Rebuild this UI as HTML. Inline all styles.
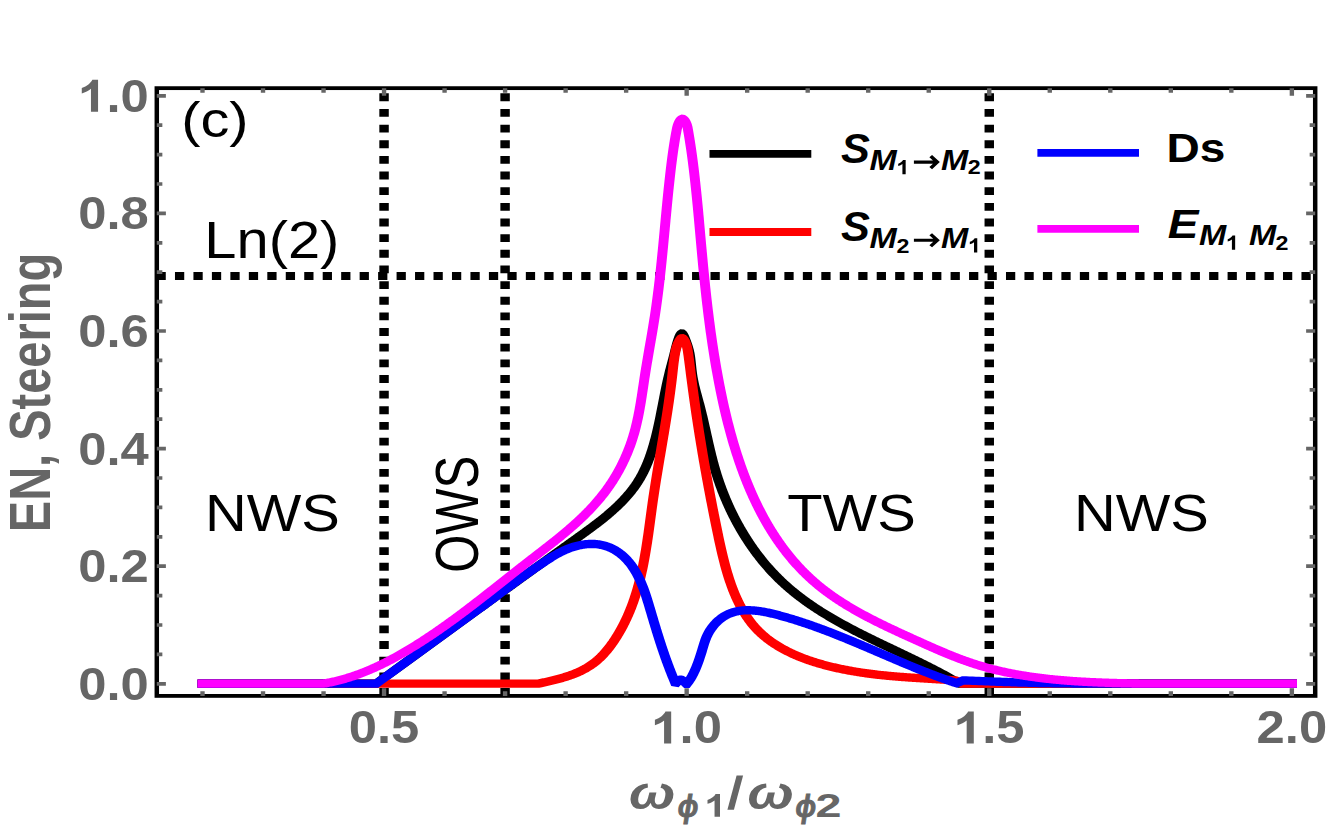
<!DOCTYPE html><html><head><meta charset="utf-8"><title>chart</title><style>html,body{margin:0;padding:0;background:#fff}svg{display:block}text{font-family:"Liberation Sans",sans-serif;font-kerning:none}</style></head><body>
<svg width="1329" height="830" viewBox="0 0 1329 830">
<rect width="1329" height="830" fill="#fff"/>
<g transform="scale(1.1800,1)">
<line x1="325.47" y1="695.90" x2="325.47" y2="88.15" stroke="#000" stroke-width="8.00" stroke-dasharray="7.85 7.80"/>
<line x1="428.05" y1="695.90" x2="428.05" y2="88.15" stroke="#000" stroke-width="8.00" stroke-dasharray="7.85 7.80"/>
<line x1="838.36" y1="695.90" x2="838.36" y2="88.15" stroke="#000" stroke-width="8.00" stroke-dasharray="7.85 7.80"/>
<line x1="132.63" y1="276.00" x2="1114.58" y2="276.00" stroke="#000" stroke-width="7.80" stroke-dasharray="7.85 7.80"/>
<polyline points="171.61,683.60 318.90,683.60 406.78,608.14 407.47,607.55 408.15,606.96 408.84,606.37 409.52,605.78 410.21,605.19 410.90,604.60 411.58,604.01 412.27,603.42 412.96,602.83 413.64,602.24 414.33,601.65 415.01,601.06 415.70,600.47 416.38,599.88 417.07,599.29 417.76,598.71 418.44,598.12 419.13,597.53 419.81,596.94 420.50,596.35 421.18,595.76 421.87,595.18 422.56,594.59 423.24,594.00 423.93,593.41 424.61,592.82 425.30,592.24 425.98,591.65 426.67,591.06 427.36,590.48 428.04,589.89 428.73,589.30 429.41,588.71 430.10,588.13 430.78,587.54 431.47,586.95 432.16,586.37 432.84,585.78 433.53,585.19 434.21,584.61 434.90,584.02 435.59,583.43 436.27,582.85 436.96,582.26 437.64,581.68 438.33,581.09 439.02,580.50 439.70,579.92 440.39,579.33 441.07,578.75 441.76,578.16 442.45,577.57 443.13,576.99 443.82,576.40 444.51,575.82 445.20,575.23 445.88,574.64 446.57,574.06 447.26,573.47 447.94,572.89 448.63,572.30 449.32,571.72 450.01,571.13 450.69,570.54 451.38,569.96 452.07,569.37 452.76,568.79 453.44,568.20 454.13,567.61 454.82,567.03 455.51,566.44 456.20,565.86 456.89,565.27 457.58,564.69 458.26,564.10 458.95,563.51 459.64,562.93 460.33,562.34 461.02,561.76 461.71,561.17 462.40,560.58 463.09,560.00 463.78,559.41 464.47,558.83 465.16,558.24 465.85,557.65 466.54,557.07 467.23,556.48 467.92,555.89 468.61,555.31 469.31,554.72 470.00,554.13 470.69,553.55 471.38,552.96 472.07,552.37 472.76,551.79 473.46,551.20 474.15,550.61 474.84,550.02 475.54,549.44 476.23,548.85 476.92,548.26 477.62,547.67 478.31,547.09 479.00,546.50 479.70,545.91 480.39,545.32 481.09,544.73 481.78,544.15 482.48,543.56 483.17,542.97 483.87,542.38 484.56,541.79 485.26,541.20 485.95,540.61 486.65,540.02 487.35,539.43 488.04,538.85 488.74,538.26 489.44,537.67 490.14,537.08 490.83,536.48 491.53,535.89 492.23,535.30 492.92,534.71 493.62,534.12 494.32,533.53 495.01,532.93 495.71,532.34 496.40,531.74 497.09,531.15 497.79,530.55 498.48,529.95 499.17,529.35 499.86,528.75 500.55,528.15 501.24,527.55 501.92,526.94 502.61,526.34 503.29,525.73 503.97,525.12 504.66,524.51 505.34,523.90 506.01,523.29 506.69,522.67 507.36,522.06 508.04,521.44 508.71,520.82 509.37,520.20 510.04,519.57 510.70,518.95 511.37,518.32 512.03,517.69 512.68,517.06 513.34,516.42 513.99,515.78 514.64,515.15 515.28,514.50 515.93,513.86 516.57,513.21 517.21,512.56 517.84,511.91 518.47,511.26 519.10,510.60 519.73,509.94 520.35,509.27 520.97,508.61 521.59,507.94 522.20,507.27 522.81,506.59 523.41,505.91 524.01,505.23 524.61,504.54 525.20,503.85 525.79,503.16 526.38,502.47 526.96,501.77 527.53,501.06 528.11,500.36 528.67,499.65 529.24,498.93 529.80,498.22 530.35,497.49 530.90,496.77 531.45,496.04 531.99,495.30 532.52,494.57 533.05,493.82 533.58,493.08 534.10,492.33 534.62,491.57 535.13,490.81 535.63,490.05 536.13,489.28 536.63,488.51 537.11,487.73 537.60,486.95 538.07,486.16 538.55,485.37 539.01,484.57 539.47,483.77 539.93,482.96 540.37,482.15 540.82,481.33 541.25,480.51 541.68,479.68 542.10,478.85 542.52,478.01 542.93,477.17 543.33,476.32 543.73,475.47 544.12,474.61 544.51,473.75 544.89,472.88 545.26,472.01 545.63,471.13 546.00,470.25 546.35,469.36 546.70,468.47 547.05,467.57 547.39,466.67 547.73,465.77 548.06,464.86 548.38,463.95 548.70,463.03 549.02,462.11 549.33,461.19 549.64,460.26 549.94,459.33 550.23,458.39 550.53,457.45 550.82,456.51 551.10,455.57 551.38,454.62 551.65,453.67 551.92,452.71 552.19,451.75 552.45,450.79 552.71,449.83 552.97,448.86 553.22,447.89 553.47,446.92 553.71,445.94 553.95,444.96 554.19,443.98 554.42,443.00 554.65,442.02 554.88,441.03 555.11,440.04 555.33,439.05 555.55,438.06 555.76,437.06 555.98,436.06 556.19,435.07 556.39,434.06 556.60,433.06 556.80,432.06 557.00,431.05 557.20,430.05 557.40,429.04 557.59,428.03 557.78,427.02 557.97,426.01 558.16,425.00 558.35,423.98 558.53,422.97 558.72,421.95 558.90,420.94 559.08,419.92 559.26,418.91 559.43,417.89 559.61,416.87 559.78,415.85 559.96,414.84 560.13,413.82 560.30,412.80 560.47,411.78 560.64,410.76 560.81,409.74 560.98,408.73 561.15,407.71 561.32,406.69 561.49,405.67 561.66,404.66 561.82,403.64 561.99,402.63 562.16,401.61 562.32,400.60 562.49,399.59 562.66,398.58 562.83,397.56 563.00,396.56 563.16,395.55 563.33,394.54 563.50,393.54 563.67,392.53 563.85,391.53 564.02,390.53 564.19,389.53 564.37,388.53 564.54,387.54 564.72,386.54 564.89,385.55 565.07,384.56 565.25,383.57 565.44,382.59 565.62,381.61 565.81,380.62 565.99,379.65 566.18,378.67 566.37,377.70 566.56,376.73 566.76,375.76 566.96,374.79 567.16,373.83 567.36,372.87 567.56,371.92 567.76,370.97 567.97,370.02 568.18,369.07 568.39,368.13 568.60,367.19 568.81,366.25 569.02,365.31 569.23,364.38 569.44,363.46 569.64,362.53 569.85,361.61 570.06,360.70 570.26,359.78 570.47,358.87 570.67,357.97 570.87,357.07 571.07,356.17 571.26,355.27 571.45,354.38 571.64,353.50 571.83,352.61 572.01,351.73 572.19,350.85 572.37,349.96 572.55,349.07 572.75,348.16 572.95,347.24 573.16,346.30 573.38,345.33 573.61,344.33 573.87,343.31 574.14,342.24 574.44,341.14 574.76,339.99 575.10,338.80 575.47,337.59 575.87,336.44 576.28,335.39 576.70,334.53 577.14,333.90 577.58,333.58 578.03,333.63 578.48,334.02 578.92,334.71 579.36,335.63 579.79,336.70 580.21,337.87 580.60,339.07 580.98,340.25 581.34,341.37 581.67,342.45 581.99,343.48 582.28,344.48 582.56,345.45 582.82,346.39 583.07,347.31 583.30,348.21 583.51,349.10 583.71,349.98 583.90,350.86 584.07,351.74 584.23,352.63 584.39,353.53 584.53,354.45 584.66,355.37 584.79,356.31 584.91,357.25 585.02,358.21 585.12,359.17 585.22,360.14 585.32,361.12 585.41,362.10 585.50,363.09 585.59,364.09 585.68,365.09 585.77,366.09 585.86,367.10 585.95,368.11 586.04,369.12 586.14,370.14 586.24,371.15 586.35,372.17 586.46,373.18 586.58,374.19 586.71,375.20 586.84,376.21 586.98,377.22 587.13,378.22 587.29,379.22 587.45,380.22 587.62,381.22 587.80,382.22 587.98,383.21 588.17,384.20 588.36,385.19 588.55,386.18 588.76,387.17 588.96,388.15 589.17,389.14 589.38,390.12 589.60,391.10 589.82,392.08 590.04,393.06 590.26,394.04 590.48,395.02 590.71,396.00 590.94,396.97 591.16,397.95 591.39,398.93 591.62,399.90 591.84,400.87 592.07,401.85 592.29,402.82 592.52,403.80 592.74,404.77 592.96,405.74 593.18,406.72 593.39,407.69 593.60,408.67 593.81,409.64 594.02,410.61 594.23,411.59 594.43,412.56 594.64,413.54 594.84,414.51 595.04,415.49 595.24,416.46 595.43,417.43 595.63,418.41 595.82,419.38 596.01,420.36 596.20,421.33 596.39,422.31 596.58,423.28 596.77,424.25 596.96,425.23 597.15,426.20 597.33,427.17 597.52,428.15 597.70,429.12 597.89,430.09 598.07,431.07 598.26,432.04 598.44,433.01 598.62,433.99 598.81,434.96 598.99,435.93 599.18,436.90 599.36,437.87 599.55,438.85 599.73,439.82 599.92,440.79 600.10,441.76 600.29,442.73 600.48,443.70 600.66,444.67 600.85,445.64 601.04,446.61 601.23,447.58 601.43,448.54 601.62,449.51 601.81,450.48 602.01,451.45 602.21,452.41 602.41,453.38 602.61,454.35 602.81,455.31 603.01,456.28 603.22,457.24 603.43,458.21 603.64,459.17 603.85,460.13 604.07,461.10 604.28,462.06 604.50,463.02 604.72,463.98 604.95,464.94 605.17,465.90 605.40,466.86 605.63,467.82 605.87,468.78 606.11,469.74 606.35,470.70 606.59,471.65 606.84,472.61 607.09,473.57 607.34,474.52 607.59,475.47 607.85,476.43 608.12,477.38 608.38,478.33 608.65,479.28 608.92,480.23 609.19,481.18 609.47,482.13 609.75,483.08 610.03,484.03 610.32,484.97 610.61,485.92 610.90,486.86 611.19,487.80 611.49,488.74 611.79,489.69 612.09,490.62 612.40,491.56 612.71,492.50 613.02,493.44 613.34,494.37 613.66,495.31 613.98,496.24 614.30,497.17 614.63,498.10 614.96,499.03 615.29,499.96 615.63,500.88 615.97,501.81 616.31,502.73 616.65,503.65 617.00,504.57 617.35,505.49 617.71,506.41 618.06,507.33 618.42,508.24 618.78,509.16 619.15,510.07 619.52,510.98 619.89,511.89 620.26,512.79 620.64,513.70 621.02,514.60 621.40,515.50 621.79,516.40 622.18,517.30 622.57,518.20 622.96,519.09 623.36,519.99 623.76,520.88 624.16,521.77 624.57,522.65 624.98,523.54 625.39,524.42 625.80,525.30 626.22,526.18 626.64,527.06 627.06,527.94 627.49,528.81 627.91,529.68 628.35,530.55 628.78,531.42 629.22,532.28 629.66,533.14 630.10,534.01 630.54,534.86 630.99,535.72 631.44,536.57 631.90,537.43 632.35,538.27 632.81,539.12 633.28,539.97 633.74,540.81 634.21,541.65 634.68,542.49 635.15,543.32 635.63,544.15 636.11,544.98 636.59,545.81 637.07,546.63 637.56,547.46 638.05,548.28 638.54,549.09 639.04,549.91 639.54,550.72 640.04,551.53 640.54,552.34 641.05,553.14 641.56,553.94 642.07,554.74 642.59,555.53 643.11,556.33 643.63,557.12 644.15,557.90 644.68,558.69 645.20,559.47 645.74,560.25 646.27,561.02 646.81,561.79 647.35,562.56 647.89,563.33 648.43,564.09 648.98,564.85 649.53,565.61 650.09,566.36 650.64,567.11 651.20,567.86 651.76,568.60 652.33,569.35 652.89,570.08 653.46,570.82 654.03,571.55 654.61,572.28 655.19,573.00 655.77,573.72 656.35,574.44 656.93,575.16 657.52,575.87 658.11,576.57 658.71,577.28 659.30,577.98 659.90,578.68 660.50,579.37 661.11,580.06 661.71,580.75 662.32,581.43 662.94,582.11 663.55,582.78 664.17,583.46 664.79,584.12 665.41,584.79 666.04,585.45 666.66,586.11 667.29,586.76 667.93,587.41 668.56,588.06 669.20,588.71 669.84,589.35 670.48,589.99 671.12,590.62 671.77,591.25 672.42,591.88 673.07,592.50 673.72,593.13 674.38,593.75 675.04,594.36 675.70,594.97 676.36,595.58 677.03,596.19 677.69,596.79 678.36,597.39 679.03,597.99 679.71,598.58 680.38,599.18 681.06,599.76 681.74,600.35 682.42,600.93 683.10,601.51 683.79,602.09 684.48,602.67 685.16,603.24 685.86,603.81 686.55,604.37 687.24,604.94 687.94,605.50 688.64,606.06 689.34,606.61 690.04,607.17 690.74,607.72 691.45,608.27 692.16,608.81 692.86,609.36 693.58,609.90 694.29,610.44 695.00,610.98 695.72,611.51 696.43,612.04 697.15,612.57 697.87,613.10 698.59,613.63 699.32,614.15 700.04,614.67 700.77,615.19 701.49,615.71 702.22,616.22 702.95,616.73 703.68,617.24 704.42,617.75 705.15,618.26 705.89,618.76 706.62,619.27 707.36,619.77 708.10,620.27 708.84,620.76 709.58,621.26 710.32,621.75 711.07,622.25 711.81,622.74 712.56,623.22 713.31,623.71 714.06,624.20 714.80,624.68 715.55,625.16 716.31,625.64 717.06,626.12 717.81,626.60 718.57,627.07 719.32,627.55 720.08,628.02 720.83,628.49 721.59,628.96 722.35,629.43 723.11,629.90 723.87,630.36 724.63,630.83 725.39,631.29 726.16,631.76 726.92,632.22 727.68,632.68 728.45,633.13 729.21,633.59 729.98,634.05 730.74,634.50 731.51,634.96 732.28,635.41 733.05,635.86 733.81,636.32 734.58,636.77 735.35,637.22 736.12,637.66 736.89,638.11 737.66,638.56 738.44,639.01 739.21,639.45 739.98,639.90 740.75,640.34 741.52,640.78 742.30,641.23 743.07,641.67 743.84,642.11 744.62,642.55 745.39,642.99 746.16,643.43 746.94,643.87 747.71,644.31 748.48,644.74 749.26,645.18 750.03,645.62 750.81,646.06 751.58,646.49 752.36,646.93 753.13,647.37 753.91,647.80 754.68,648.24 755.45,648.67 756.23,649.11 757.00,649.54 757.78,649.98 758.55,650.41 759.32,650.84 760.10,651.28 760.87,651.71 761.64,652.15 762.41,652.58 763.19,653.02 763.96,653.45 764.73,653.88 765.50,654.32 766.27,654.75 767.04,655.19 767.81,655.62 768.58,656.06 769.35,656.50 770.12,656.93 770.89,657.37 771.66,657.80 772.42,658.24 773.19,658.68 773.95,659.12 774.72,659.55 775.48,659.99 776.25,660.43 777.01,660.87 777.77,661.31 778.54,661.75 779.30,662.19 780.06,662.64 780.82,663.08 781.58,663.52 782.33,663.97 783.09,664.41 783.85,664.86 784.60,665.30 785.36,665.75 786.11,666.20 786.86,666.65 787.61,667.10 788.36,667.55 789.11,668.00 789.86,668.45 790.61,668.90 791.36,669.36 792.10,669.81 792.84,670.27 793.59,670.73 794.33,671.19 795.07,671.65 795.81,672.11 796.55,672.57 797.28,673.03 798.02,673.50 798.75,673.97 799.49,674.43 800.22,674.90 800.95,675.37 801.68,675.84 802.41,676.32 803.13,676.79 803.86,677.27 804.58,677.74 805.30,678.22 806.02,678.70 806.74,679.19 807.46,679.67 808.17,680.15 808.89,680.64 809.60,681.13 810.31,681.62 811.02,682.11 811.73,682.61 812.43,683.10 813.14,683.60 1094.92,683.60" fill="none" stroke="#000" stroke-width="8.40" stroke-linejoin="miter" stroke-miterlimit="3.25" stroke-linecap="square"/>
<polyline points="171.61,683.60 456.44,683.60 457.35,683.37 458.26,683.13 459.16,682.90 460.06,682.67 460.95,682.43 461.84,682.20 462.73,681.96 463.61,681.73 464.49,681.49 465.36,681.25 466.23,681.01 467.10,680.77 467.96,680.52 468.82,680.28 469.67,680.03 470.52,679.77 471.36,679.52 472.20,679.26 473.04,679.00 473.87,678.74 474.70,678.47 475.52,678.20 476.34,677.92 477.15,677.64 477.96,677.35 478.77,677.06 479.57,676.77 480.36,676.47 481.16,676.16 481.94,675.85 482.73,675.53 483.51,675.21 484.28,674.88 485.05,674.55 485.81,674.21 486.58,673.86 487.33,673.50 488.08,673.14 488.83,672.77 489.57,672.39 490.31,672.00 491.04,671.61 491.77,671.21 492.49,670.80 493.21,670.38 493.93,669.95 494.64,669.51 495.34,669.06 496.04,668.61 496.74,668.14 497.43,667.67 498.11,667.18 498.80,666.68 499.47,666.18 500.14,665.66 500.81,665.13 501.47,664.59 502.13,664.04 502.78,663.48 503.43,662.90 504.07,662.32 504.71,661.72 505.34,661.11 505.96,660.49 506.59,659.85 507.20,659.20 507.82,658.54 508.42,657.86 509.03,657.18 509.62,656.48 510.21,655.77 510.80,655.05 511.38,654.32 511.96,653.58 512.53,652.82 513.10,652.06 513.66,651.29 514.21,650.51 514.77,649.73 515.31,648.93 515.85,648.12 516.39,647.31 516.92,646.49 517.44,645.67 517.96,644.83 518.47,643.99 518.98,643.15 519.49,642.30 519.98,641.44 520.48,640.58 520.96,639.72 521.45,638.85 521.92,637.97 522.39,637.09 522.86,636.21 523.32,635.33 523.77,634.45 524.22,633.56 524.67,632.67 525.10,631.78 525.54,630.88 525.96,629.99 526.39,629.09 526.80,628.19 527.21,627.29 527.62,626.39 528.02,625.49 528.42,624.59 528.81,623.68 529.19,622.77 529.57,621.86 529.95,620.95 530.32,620.04 530.69,619.13 531.05,618.21 531.41,617.29 531.76,616.37 532.11,615.45 532.45,614.53 532.79,613.61 533.12,612.69 533.45,611.76 533.77,610.83 534.09,609.91 534.41,608.98 534.72,608.05 535.03,607.11 535.33,606.18 535.63,605.24 535.93,604.31 536.22,603.37 536.51,602.43 536.79,601.49 537.07,600.55 537.34,599.61 537.62,598.66 537.88,597.72 538.15,596.77 538.41,595.82 538.66,594.88 538.92,593.93 539.17,592.98 539.41,592.02 539.66,591.07 539.89,590.12 540.13,589.16 540.36,588.21 540.59,587.25 540.82,586.29 541.04,585.33 541.26,584.37 541.48,583.41 541.69,582.45 541.90,581.48 542.11,580.52 542.31,579.56 542.52,578.59 542.71,577.62 542.91,576.65 543.10,575.69 543.29,574.72 543.48,573.75 543.67,572.78 543.85,571.80 544.03,570.83 544.21,569.86 544.39,568.88 544.56,567.91 544.73,566.93 544.90,565.96 545.07,564.98 545.23,564.00 545.39,563.02 545.55,562.04 545.71,561.06 545.87,560.08 546.02,559.10 546.17,558.12 546.32,557.14 546.47,556.15 546.62,555.17 546.76,554.18 546.91,553.20 547.05,552.21 547.19,551.23 547.33,550.24 547.47,549.26 547.60,548.27 547.74,547.28 547.87,546.29 548.00,545.30 548.13,544.31 548.26,543.33 548.39,542.34 548.52,541.35 548.64,540.35 548.77,539.36 548.89,538.37 549.01,537.38 549.14,536.39 549.26,535.40 549.38,534.40 549.50,533.41 549.62,532.42 549.73,531.43 549.85,530.43 549.97,529.44 550.09,528.44 550.20,527.45 550.32,526.46 550.43,525.46 550.55,524.47 550.66,523.47 550.78,522.48 550.89,521.48 551.00,520.49 551.12,519.49 551.23,518.50 551.35,517.50 551.46,516.51 551.57,515.51 551.69,514.52 551.80,513.52 551.92,512.53 552.03,511.53 552.15,510.54 552.26,509.54 552.38,508.55 552.49,507.55 552.61,506.56 552.73,505.56 552.85,504.57 552.96,503.58 553.08,502.58 553.20,501.59 553.32,500.59 553.44,499.60 553.57,498.61 553.69,497.61 553.81,496.62 553.94,495.63 554.06,494.64 554.19,493.64 554.32,492.65 554.44,491.66 554.57,490.67 554.70,489.68 554.83,488.69 554.96,487.70 555.09,486.70 555.22,485.71 555.35,484.72 555.49,483.73 555.62,482.74 555.75,481.75 555.89,480.76 556.02,479.77 556.16,478.78 556.29,477.79 556.43,476.80 556.56,475.81 556.70,474.82 556.84,473.84 556.97,472.85 557.11,471.86 557.25,470.87 557.39,469.88 557.53,468.89 557.67,467.90 557.81,466.91 557.95,465.92 558.09,464.94 558.23,463.95 558.37,462.96 558.51,461.97 558.65,460.98 558.79,459.99 558.93,459.01 559.07,458.02 559.21,457.03 559.36,456.04 559.50,455.05 559.64,454.06 559.78,453.08 559.92,452.09 560.07,451.10 560.21,450.11 560.35,449.12 560.49,448.13 560.63,447.15 560.77,446.16 560.92,445.17 561.06,444.18 561.20,443.19 561.34,442.20 561.48,441.22 561.62,440.23 561.76,439.24 561.91,438.25 562.05,437.26 562.19,436.27 562.33,435.28 562.47,434.29 562.61,433.30 562.75,432.32 562.88,431.33 563.02,430.34 563.16,429.35 563.30,428.36 563.44,427.37 563.58,426.38 563.71,425.39 563.85,424.40 563.98,423.41 564.12,422.42 564.26,421.43 564.39,420.44 564.52,419.45 564.66,418.45 564.79,417.46 564.92,416.47 565.06,415.48 565.19,414.49 565.32,413.50 565.45,412.50 565.58,411.51 565.71,410.52 565.84,409.53 565.96,408.53 566.09,407.54 566.22,406.55 566.34,405.55 566.47,404.56 566.59,403.57 566.71,402.57 566.84,401.58 566.96,400.58 567.08,399.59 567.20,398.59 567.32,397.60 567.44,396.60 567.55,395.61 567.67,394.61 567.79,393.61 567.90,392.62 568.01,391.62 568.13,390.62 568.24,389.63 568.35,388.63 568.46,387.63 568.57,386.63 568.68,385.63 568.78,384.63 568.89,383.63 568.99,382.63 569.10,381.63 569.20,380.63 569.30,379.63 569.40,378.63 569.50,377.63 569.59,376.63 569.69,375.63 569.79,374.62 569.88,373.62 569.97,372.62 570.07,371.62 570.16,370.61 570.25,369.61 570.34,368.61 570.44,367.61 570.53,366.62 570.63,365.62 570.73,364.63 570.83,363.63 570.93,362.64 571.04,361.66 571.15,360.67 571.26,359.69 571.38,358.72 571.50,357.74 571.63,356.77 571.76,355.81 571.89,354.85 572.04,353.89 572.18,352.94 572.34,351.99 572.50,351.05 572.68,350.11 572.87,349.17 573.08,348.22 573.32,347.26 573.59,346.30 573.88,345.32 574.22,344.34 574.59,343.33 575.00,342.31 575.47,341.26 575.97,340.25 576.51,339.35 577.07,338.65 577.64,338.23 578.21,338.18 578.78,338.52 579.33,339.17 579.85,340.05 580.34,341.06 580.77,342.11 581.16,343.15 581.50,344.17 581.79,345.18 582.04,346.17 582.26,347.14 582.45,348.11 582.62,349.07 582.76,350.03 582.89,350.98 583.01,351.94 583.13,352.90 583.25,353.86 583.36,354.83 583.48,355.81 583.59,356.79 583.70,357.78 583.81,358.77 583.92,359.77 584.04,360.77 584.15,361.77 584.26,362.78 584.37,363.79 584.48,364.80 584.59,365.81 584.70,366.83 584.81,367.84 584.91,368.86 585.02,369.88 585.13,370.90 585.24,371.92 585.35,372.94 585.46,373.96 585.57,374.98 585.68,376.00 585.79,377.01 585.90,378.03 586.02,379.04 586.13,380.05 586.24,381.07 586.35,382.08 586.46,383.09 586.58,384.09 586.69,385.10 586.80,386.11 586.92,387.11 587.03,388.12 587.14,389.12 587.26,390.12 587.37,391.12 587.49,392.12 587.61,393.12 587.72,394.12 587.84,395.12 587.95,396.12 588.07,397.11 588.19,398.11 588.31,399.10 588.42,400.09 588.54,401.08 588.66,402.08 588.78,403.07 588.90,404.06 589.02,405.04 589.14,406.03 589.26,407.02 589.38,408.01 589.50,408.99 589.62,409.98 589.75,410.96 589.87,411.95 589.99,412.93 590.11,413.91 590.24,414.89 590.36,415.87 590.48,416.85 590.61,417.83 590.73,418.81 590.86,419.79 590.98,420.77 591.11,421.75 591.24,422.72 591.36,423.70 591.49,424.68 591.62,425.65 591.75,426.63 591.87,427.60 592.00,428.58 592.13,429.55 592.26,430.52 592.39,431.50 592.52,432.47 592.65,433.44 592.78,434.41 592.91,435.39 593.04,436.36 593.18,437.33 593.31,438.30 593.44,439.27 593.57,440.24 593.71,441.21 593.84,442.18 593.98,443.15 594.11,444.12 594.25,445.09 594.38,446.05 594.52,447.02 594.65,447.99 594.79,448.96 594.93,449.93 595.07,450.90 595.20,451.86 595.34,452.83 595.48,453.80 595.62,454.77 595.76,455.74 595.90,456.70 596.04,457.67 596.18,458.64 596.32,459.61 596.46,460.57 596.61,461.54 596.75,462.51 596.89,463.48 597.04,464.45 597.18,465.42 597.32,466.38 597.47,467.35 597.62,468.32 597.76,469.29 597.91,470.26 598.05,471.23 598.20,472.20 598.35,473.17 598.50,474.14 598.64,475.11 598.79,476.08 598.94,477.05 599.09,478.02 599.24,478.99 599.39,479.96 599.54,480.94 599.70,481.91 599.85,482.88 600.00,483.85 600.15,484.83 600.31,485.80 600.46,486.78 600.62,487.75 600.77,488.73 600.93,489.70 601.08,490.68 601.24,491.66 601.39,492.63 601.55,493.61 601.71,494.59 601.87,495.57 602.03,496.55 602.18,497.53 602.34,498.51 602.50,499.49 602.66,500.47 602.83,501.46 602.99,502.44 603.15,503.42 603.31,504.41 603.47,505.39 603.64,506.38 603.80,507.37 603.97,508.36 604.13,509.34 604.30,510.33 604.46,511.32 604.63,512.31 604.80,513.31 604.96,514.30 605.13,515.29 605.30,516.29 605.47,517.28 605.64,518.28 605.81,519.28 605.98,520.27 606.15,521.27 606.32,522.27 606.49,523.27 606.67,524.27 606.84,525.28 607.01,526.28 607.19,527.29 607.36,528.29 607.54,529.30 607.71,530.31 607.89,531.32 608.07,532.33 608.24,533.34 608.42,534.35 608.60,535.36 608.78,536.38 608.96,537.39 609.14,538.40 609.33,539.42 609.51,540.43 609.69,541.45 609.88,542.47 610.07,543.48 610.26,544.50 610.45,545.51 610.64,546.53 610.83,547.55 611.02,548.56 611.22,549.58 611.42,550.59 611.62,551.61 611.82,552.62 612.02,553.64 612.22,554.65 612.43,555.66 612.64,556.67 612.85,557.68 613.06,558.69 613.28,559.70 613.49,560.71 613.71,561.72 613.93,562.72 614.16,563.73 614.38,564.73 614.61,565.73 614.84,566.73 615.07,567.73 615.31,568.72 615.55,569.72 615.79,570.71 616.04,571.70 616.28,572.69 616.53,573.67 616.79,574.66 617.04,575.64 617.30,576.62 617.56,577.60 617.83,578.57 618.10,579.55 618.37,580.52 618.65,581.48 618.93,582.45 619.21,583.41 619.50,584.37 619.78,585.32 620.08,586.28 620.38,587.23 620.68,588.17 620.98,589.12 621.29,590.06 621.60,590.99 621.92,591.93 622.24,592.86 622.56,593.78 622.89,594.70 623.23,595.62 623.56,596.54 623.90,597.45 624.25,598.35 624.60,599.26 624.96,600.16 625.32,601.05 625.68,601.94 626.05,602.82 626.42,603.71 626.80,604.58 627.18,605.45 627.57,606.32 627.97,607.18 628.36,608.04 628.77,608.89 629.17,609.74 629.59,610.58 630.01,611.42 630.43,612.25 630.86,613.08 631.29,613.90 631.73,614.72 632.18,615.53 632.63,616.34 633.09,617.14 633.55,617.93 634.02,618.72 634.49,619.50 634.97,620.28 635.46,621.05 635.95,621.81 636.45,622.57 636.95,623.32 637.46,624.07 637.98,624.81 638.50,625.54 639.03,626.27 639.57,626.99 640.11,627.70 640.66,628.40 641.21,629.10 641.77,629.80 642.34,630.48 642.92,631.16 643.50,631.83 644.09,632.50 644.68,633.16 645.28,633.81 645.88,634.45 646.50,635.09 647.12,635.72 647.74,636.34 648.37,636.96 649.01,637.57 649.65,638.18 650.29,638.78 650.95,639.37 651.60,639.96 652.27,640.54 652.94,641.11 653.61,641.68 654.29,642.24 654.98,642.79 655.66,643.34 656.36,643.88 657.06,644.42 657.76,644.95 658.47,645.47 659.18,645.99 659.90,646.50 660.63,647.01 661.35,647.51 662.08,648.01 662.82,648.49 663.56,648.98 664.30,649.46 665.05,649.93 665.80,650.39 666.56,650.86 667.32,651.31 668.08,651.76 668.85,652.21 669.62,652.64 670.40,653.08 671.17,653.51 671.95,653.93 672.74,654.35 673.53,654.76 674.32,655.17 675.11,655.57 675.91,655.97 676.71,656.36 677.51,656.75 678.32,657.13 679.12,657.50 679.93,657.88 680.75,658.24 681.56,658.61 682.38,658.96 683.20,659.32 684.03,659.67 684.85,660.01 685.68,660.35 686.51,660.68 687.34,661.01 688.17,661.34 689.00,661.66 689.84,661.97 690.68,662.29 691.52,662.59 692.36,662.90 693.20,663.20 694.05,663.49 694.89,663.78 695.74,664.07 696.58,664.35 697.43,664.63 698.28,664.90 699.13,665.17 699.98,665.44 700.84,665.70 701.69,665.96 702.54,666.21 703.39,666.46 704.25,666.71 705.10,666.95 705.96,667.19 706.81,667.42 707.67,667.66 708.52,667.88 709.38,668.11 710.23,668.33 711.09,668.55 711.94,668.76 712.80,668.97 713.65,669.18 714.50,669.38 715.36,669.58 716.21,669.78 717.06,669.97 717.91,670.16 718.76,670.35 719.61,670.54 720.46,670.72 721.31,670.90 722.15,671.07 723.00,671.25 723.84,671.42 724.68,671.58 725.52,671.75 726.37,671.91 727.21,672.07 728.04,672.22 728.88,672.38 729.72,672.53 730.55,672.67 731.39,672.82 732.22,672.96 733.06,673.10 733.89,673.24 734.72,673.37 735.55,673.51 736.39,673.64 737.22,673.77 738.04,673.89 738.87,674.02 739.70,674.14 740.53,674.26 741.36,674.38 742.18,674.49 743.01,674.60 743.84,674.72 744.66,674.82 745.49,674.93 746.31,675.04 747.14,675.14 747.96,675.24 748.79,675.34 749.61,675.44 750.43,675.54 751.26,675.63 752.08,675.73 752.90,675.82 753.73,675.91 754.55,676.00 755.37,676.09 756.20,676.17 757.02,676.26 757.84,676.34 758.67,676.42 759.49,676.50 760.31,676.58 761.14,676.66 761.96,676.74 762.79,676.82 763.61,676.89 764.44,676.96 765.26,677.04 766.09,677.11 766.91,677.18 767.74,677.25 768.57,677.32 769.39,677.39 770.22,677.46 771.05,677.52 771.88,677.59 772.71,677.66 773.54,677.72 774.37,677.79 775.20,677.85 776.03,677.91 776.86,677.98 777.69,678.04 778.53,678.10 779.36,678.17 780.20,678.23 781.03,678.29 781.87,678.35 782.71,678.41 783.55,678.47 784.39,678.53 785.23,678.59 786.07,678.65 786.92,678.72 787.76,678.78 788.60,678.84 789.45,678.90 790.30,678.96 791.15,679.02 792.00,679.08 792.85,679.14 793.70,679.21 794.55,679.27 795.41,679.33 796.26,679.40 797.12,679.46 797.98,679.52 798.84,679.59 799.70,679.65 800.57,679.72 801.43,679.79 802.30,679.85 803.17,679.92 804.04,679.99 804.91,680.06 805.78,680.13 806.65,680.20 807.53,680.28 808.41,680.35 809.29,680.42 810.17,680.50 815.25,683.50 1094.92,683.60" fill="none" stroke="#ff0000" stroke-width="8.40" stroke-linejoin="miter" stroke-miterlimit="3.25" stroke-linecap="square"/>
<polyline points="171.61,683.60 318.90,683.60 406.78,608.14 407.47,607.55 408.16,606.96 408.85,606.37 409.54,605.78 410.23,605.19 410.92,604.60 411.61,604.01 412.30,603.42 412.98,602.82 413.67,602.23 414.36,601.64 415.04,601.05 415.73,600.45 416.42,599.86 417.10,599.26 417.79,598.67 418.47,598.08 419.15,597.48 419.84,596.89 420.52,596.29 421.21,595.70 421.89,595.10 422.57,594.51 423.26,593.91 423.94,593.32 424.62,592.72 425.31,592.12 425.99,591.53 426.67,590.93 427.36,590.34 428.04,589.74 428.72,589.15 429.41,588.56 430.09,587.96 430.77,587.37 431.46,586.77 432.14,586.18 432.82,585.59 433.51,584.99 434.19,584.40 434.88,583.81 435.56,583.22 436.25,582.63 436.94,582.03 437.62,581.44 438.31,580.85 439.00,580.27 439.68,579.68 440.37,579.09 441.06,578.50 441.75,577.91 442.44,577.33 443.13,576.74 443.82,576.16 444.51,575.57 445.20,574.99 445.90,574.41 446.59,573.83 447.29,573.25 447.98,572.67 448.68,572.09 449.37,571.51 450.07,570.93 450.77,570.36 451.47,569.78 452.17,569.21 452.87,568.63 453.57,568.06 454.28,567.49 454.98,566.92 455.69,566.35 456.39,565.78 457.10,565.22 457.81,564.65 458.52,564.09 459.23,563.53 459.94,562.97 460.65,562.41 461.37,561.85 462.08,561.29 462.80,560.73 463.52,560.18 464.24,559.63 464.96,559.08 465.68,558.54 466.41,558.00 467.13,557.46 467.86,556.93 468.59,556.41 469.33,555.89 470.06,555.37 470.80,554.87 471.54,554.37 472.29,553.87 473.03,553.39 473.78,552.92 474.54,552.45 475.29,552.00 476.05,551.55 476.82,551.12 477.58,550.69 478.35,550.28 479.13,549.87 479.90,549.48 480.69,549.10 481.47,548.73 482.26,548.37 483.06,548.02 483.85,547.69 484.66,547.37 485.47,547.05 486.28,546.76 487.10,546.47 487.92,546.20 488.75,545.94 489.58,545.69 490.41,545.46 491.25,545.24 492.10,545.04 492.94,544.85 493.79,544.68 494.64,544.53 495.49,544.39 496.35,544.27 497.20,544.17 498.06,544.08 498.92,544.01 499.78,543.96 500.63,543.93 501.49,543.92 502.35,543.93 503.20,543.96 504.05,544.02 504.91,544.09 505.76,544.18 506.60,544.30 507.45,544.43 508.29,544.59 509.13,544.77 509.96,544.97 510.79,545.19 511.61,545.43 512.43,545.70 513.25,545.99 514.06,546.30 514.86,546.63 515.66,546.98 516.45,547.36 517.23,547.75 518.01,548.17 518.77,548.61 519.53,549.06 520.29,549.54 521.03,550.03 521.77,550.55 522.49,551.08 523.21,551.63 523.92,552.20 524.61,552.78 525.30,553.38 525.98,553.99 526.64,554.63 527.30,555.27 527.94,555.93 528.57,556.61 529.19,557.29 529.80,558.00 530.40,558.71 530.99,559.44 531.57,560.18 532.14,560.93 532.70,561.69 533.25,562.46 533.78,563.24 534.31,564.03 534.83,564.83 535.33,565.64 535.83,566.46 536.31,567.29 536.79,568.13 537.25,568.97 537.71,569.82 538.16,570.68 538.60,571.55 539.03,572.42 539.45,573.30 539.86,574.19 540.26,575.08 540.66,575.98 541.05,576.89 541.43,577.80 541.80,578.72 542.17,579.64 542.53,580.56 542.88,581.50 543.23,582.43 543.57,583.38 543.90,584.32 544.23,585.27 544.55,586.22 544.87,587.18 545.18,588.14 545.48,589.10 545.78,590.07 546.08,591.04 546.37,592.01 546.66,592.98 546.94,593.96 547.22,594.93 547.50,595.91 547.77,596.89 548.04,597.87 548.30,598.85 548.56,599.84 548.82,600.82 549.08,601.80 549.34,602.78 549.59,603.77 549.84,604.75 550.09,605.73 550.34,606.71 550.58,607.69 550.83,608.66 551.07,609.64 551.32,610.61 551.56,611.59 551.80,612.55 552.05,613.52 552.29,614.49 552.53,615.45 552.77,616.41 553.02,617.37 553.26,618.33 553.50,619.29 553.74,620.24 553.98,621.19 554.22,622.15 554.47,623.10 554.71,624.04 554.95,624.99 555.19,625.94 555.44,626.88 555.68,627.82 555.92,628.77 556.17,629.71 556.41,630.65 556.66,631.59 556.90,632.52 557.15,633.46 557.40,634.40 557.65,635.33 557.89,636.27 558.14,637.20 558.39,638.13 558.65,639.07 558.90,640.00 559.15,640.93 559.41,641.86 559.66,642.79 559.92,643.72 560.18,644.65 560.44,645.58 560.70,646.51 560.96,647.44 561.22,648.37 561.49,649.30 561.75,650.23 562.02,651.16 562.29,652.09 562.56,653.02 562.83,653.95 563.11,654.89 563.38,655.82 563.66,656.75 563.94,657.68 564.22,658.62 564.51,659.55 564.79,660.48 565.08,661.42 565.37,662.36 565.66,663.29 565.96,664.23 566.26,665.17 566.55,666.11 566.86,667.05 567.16,667.99 567.47,668.94 567.77,669.88 568.09,670.83 568.40,671.77 568.72,672.72 569.03,673.67 569.36,674.62 569.68,675.58 570.01,676.53 570.34,677.49 570.67,678.45 571.01,679.41 571.35,680.37 571.69,681.33 572.03,682.30 573.39,682.60 573.52,682.43 573.65,682.26 573.79,682.08 573.92,681.90 574.05,681.72 574.18,681.54 574.31,681.37 574.44,681.20 574.58,681.03 574.72,680.88 574.86,680.73 575.00,680.60 575.13,680.48 575.27,680.37 575.40,680.25 575.54,680.14 575.68,680.03 575.82,679.93 575.97,679.84 576.11,679.77 576.26,679.70 576.40,679.65 576.55,679.61 576.69,679.60 576.85,679.61 577.01,679.63 577.17,679.68 577.33,679.74 577.49,679.81 577.65,679.90 577.81,680.00 577.98,680.11 578.14,680.22 578.31,680.35 578.48,680.47 578.64,680.60 578.87,680.79 579.11,681.00 579.34,681.23 579.58,681.48 579.82,681.75 580.07,682.02 580.31,682.31 580.55,682.59 580.80,682.88 581.04,683.16 581.28,683.44 581.53,683.70 582.20,683.70 582.68,683.00 583.14,682.29 583.59,681.55 584.04,680.80 584.48,680.03 584.91,679.25 585.33,678.45 585.74,677.63 586.15,676.80 586.55,675.95 586.94,675.10 587.33,674.22 587.71,673.34 588.08,672.44 588.44,671.53 588.80,670.62 589.15,669.69 589.50,668.75 589.84,667.80 590.17,666.84 590.50,665.88 590.82,664.91 591.14,663.93 591.45,662.94 591.76,661.95 592.06,660.96 592.36,659.95 592.66,658.95 592.95,657.94 593.23,656.93 593.51,655.92 593.79,654.90 594.07,653.88 594.34,652.86 594.60,651.85 594.87,650.83 595.13,649.81 595.39,648.80 595.64,647.79 595.90,646.77 596.16,645.77 596.42,644.76 596.68,643.77 596.95,642.77 597.23,641.78 597.52,640.80 597.82,639.83 598.13,638.86 598.45,637.90 598.79,636.94 599.14,636.00 599.52,635.06 599.91,634.14 600.32,633.23 600.74,632.32 601.19,631.43 601.65,630.55 602.12,629.69 602.61,628.83 603.12,628.00 603.64,627.17 604.17,626.36 604.72,625.57 605.28,624.79 605.86,624.03 606.44,623.28 607.04,622.56 607.65,621.85 608.27,621.16 608.90,620.49 609.54,619.85 610.19,619.22 610.85,618.61 611.51,618.03 612.19,617.46 612.87,616.92 613.56,616.41 614.25,615.91 614.95,615.44 615.66,615.00 616.37,614.57 617.09,614.17 617.81,613.79 618.54,613.44 619.28,613.10 620.02,612.78 620.77,612.49 621.52,612.21 622.27,611.96 623.04,611.72 623.80,611.51 624.57,611.31 625.35,611.13 626.13,610.97 626.91,610.82 627.70,610.70 628.49,610.59 629.29,610.49 630.09,610.42 630.89,610.35 631.69,610.31 632.50,610.28 633.32,610.26 634.13,610.26 634.95,610.27 635.77,610.30 636.60,610.34 637.42,610.39 638.25,610.45 639.09,610.53 639.92,610.62 640.75,610.72 641.59,610.83 642.43,610.95 643.27,611.09 644.11,611.23 644.96,611.38 645.80,611.54 646.65,611.71 647.50,611.89 648.34,612.08 649.19,612.28 650.04,612.48 650.89,612.69 651.74,612.91 652.59,613.13 653.44,613.36 654.29,613.59 655.14,613.83 655.99,614.08 656.84,614.33 657.68,614.58 658.53,614.84 659.38,615.10 660.22,615.37 661.07,615.63 661.91,615.91 662.75,616.18 663.59,616.45 664.43,616.73 665.27,617.01 666.11,617.29 666.94,617.57 667.78,617.86 668.61,618.15 669.44,618.44 670.27,618.73 671.10,619.03 671.93,619.32 672.76,619.62 673.58,619.92 674.41,620.22 675.23,620.53 676.06,620.84 676.88,621.15 677.70,621.46 678.52,621.77 679.34,622.08 680.15,622.40 680.97,622.72 681.79,623.04 682.60,623.36 683.41,623.68 684.23,624.01 685.04,624.34 685.85,624.66 686.66,624.99 687.47,625.33 688.28,625.66 689.08,626.00 689.89,626.33 690.69,626.67 691.50,627.01 692.30,627.35 693.11,627.70 693.91,628.04 694.71,628.39 695.51,628.74 696.31,629.09 697.11,629.44 697.91,629.79 698.70,630.14 699.50,630.50 700.30,630.85 701.09,631.21 701.89,631.57 702.68,631.93 703.47,632.29 704.27,632.65 705.06,633.01 705.85,633.38 706.64,633.74 707.43,634.11 708.22,634.48 709.01,634.85 709.80,635.22 710.58,635.59 711.37,635.96 712.16,636.33 712.94,636.71 713.73,637.08 714.52,637.46 715.30,637.83 716.08,638.21 716.87,638.59 717.65,638.97 718.43,639.35 719.22,639.73 720.00,640.11 720.78,640.49 721.56,640.87 722.34,641.26 723.12,641.64 723.90,642.03 724.69,642.41 725.46,642.80 726.24,643.18 727.02,643.57 727.80,643.96 728.58,644.35 729.36,644.74 730.14,645.13 730.92,645.52 731.69,645.91 732.47,646.30 733.25,646.69 734.03,647.08 734.80,647.47 735.58,647.86 736.36,648.25 737.13,648.65 737.91,649.04 738.69,649.43 739.46,649.82 740.24,650.22 741.02,650.61 741.79,651.00 742.57,651.40 743.34,651.79 744.12,652.18 744.90,652.58 745.67,652.97 746.45,653.37 747.23,653.76 748.00,654.15 748.78,654.55 749.55,654.94 750.33,655.33 751.11,655.73 751.88,656.12 752.66,656.51 753.44,656.91 754.22,657.30 754.99,657.69 755.77,658.08 756.55,658.47 757.33,658.87 758.10,659.26 758.88,659.65 759.66,660.04 760.44,660.43 761.22,660.82 762.00,661.21 762.78,661.60 763.56,661.98 764.34,662.37 765.12,662.76 765.90,663.14 766.68,663.53 767.47,663.92 768.25,664.30 769.03,664.68 769.81,665.07 770.60,665.45 771.38,665.83 772.17,666.21 772.95,666.59 773.74,666.97 774.52,667.35 775.31,667.73 776.09,668.11 776.88,668.48 777.67,668.86 778.46,669.23 779.25,669.61 780.04,669.98 780.83,670.35 781.62,670.72 782.41,671.09 783.20,671.46 783.99,671.83 784.79,672.19 785.58,672.56 786.38,672.92 787.17,673.28 787.97,673.65 788.76,674.01 789.56,674.37 790.36,674.72 791.16,675.08 791.96,675.44 792.76,675.79 793.56,676.14 794.36,676.49 795.17,676.84 795.97,677.19 796.77,677.54 797.58,677.88 798.39,678.23 799.19,678.57 800.00,678.91 800.81,679.25 801.62,679.59 802.43,679.93 803.24,680.26 804.06,680.60 804.87,680.93 805.68,681.26 806.50,681.58 807.32,681.91 808.13,682.24 808.95,682.56 809.77,682.88 810.59,683.20 816.10,680.40 818.75,680.52 821.44,680.64 824.16,680.76 826.91,680.89 829.65,681.01 832.38,681.13 835.07,681.25 837.71,681.37 840.29,681.49 842.79,681.60 845.18,681.70 847.46,681.80 849.03,681.87 850.51,681.93 851.92,682.00 853.27,682.06 854.59,682.12 855.89,682.17 857.19,682.23 858.52,682.29 859.88,682.34 861.30,682.39 862.81,682.45 864.41,682.50 866.82,682.58 869.38,682.65 872.06,682.73 874.84,682.80 877.71,682.87 880.63,682.95 883.59,683.01 886.57,683.08 889.56,683.14 892.52,683.20 895.44,683.25 898.31,683.30 901.13,683.34 903.95,683.38 906.78,683.41 909.60,683.44 912.43,683.46 915.25,683.48 918.08,683.50 920.90,683.52 923.73,683.54 926.55,683.56 929.38,683.58 932.20,683.60 1094.92,683.60" fill="none" stroke="#0000ff" stroke-width="8.40" stroke-linejoin="miter" stroke-miterlimit="3.25" stroke-linecap="square"/>
<polyline points="171.61,683.60 274.15,683.60 275.00,683.43 275.85,683.26 276.69,683.08 277.53,682.90 278.37,682.71 279.21,682.51 280.05,682.31 280.88,682.11 281.72,681.89 282.55,681.68 283.38,681.46 284.21,681.23 285.04,681.00 285.87,680.76 286.69,680.52 287.51,680.27 288.34,680.02 289.16,679.76 289.97,679.50 290.79,679.23 291.61,678.96 292.42,678.68 293.23,678.40 294.05,678.11 294.85,677.82 295.66,677.52 296.47,677.22 297.28,676.92 298.08,676.61 298.88,676.29 299.68,675.98 300.48,675.65 301.28,675.33 302.08,674.99 302.87,674.66 303.67,674.32 304.46,673.97 305.25,673.62 306.04,673.27 306.83,672.92 307.62,672.55 308.40,672.19 309.19,671.82 309.97,671.45 310.75,671.07 311.53,670.69 312.31,670.31 313.09,669.92 313.86,669.53 314.64,669.13 315.41,668.73 316.19,668.33 316.96,667.92 317.73,667.51 318.50,667.10 319.26,666.68 320.03,666.26 320.80,665.84 321.56,665.41 322.32,664.98 323.08,664.55 323.85,664.11 324.60,663.67 325.36,663.23 326.12,662.79 326.88,662.34 327.63,661.89 328.38,661.43 329.14,660.97 329.89,660.51 330.64,660.05 331.39,659.58 332.13,659.11 332.88,658.64 333.63,658.17 334.37,657.69 335.11,657.21 335.86,656.73 336.60,656.24 337.34,655.76 338.08,655.27 338.82,654.78 339.55,654.28 340.29,653.79 341.02,653.29 341.76,652.79 342.49,652.28 343.22,651.78 343.95,651.27 344.68,650.76 345.41,650.25 346.14,649.74 346.87,649.22 347.60,648.70 348.32,648.18 349.05,647.66 349.77,647.14 350.49,646.62 351.21,646.09 351.93,645.56 352.65,645.03 353.37,644.50 354.09,643.97 354.81,643.43 355.52,642.89 356.24,642.36 356.95,641.82 357.67,641.27 358.38,640.73 359.09,640.18 359.81,639.64 360.52,639.09 361.23,638.54 361.93,637.99 362.64,637.44 363.35,636.88 364.06,636.33 364.76,635.77 365.47,635.21 366.17,634.65 366.88,634.09 367.58,633.52 368.28,632.96 368.98,632.39 369.68,631.83 370.38,631.26 371.08,630.69 371.78,630.12 372.48,629.54 373.18,628.97 373.87,628.39 374.57,627.82 375.26,627.24 375.96,626.66 376.65,626.08 377.35,625.50 378.04,624.92 378.73,624.33 379.42,623.75 380.11,623.16 380.80,622.58 381.49,621.99 382.18,621.40 382.87,620.81 383.56,620.22 384.25,619.63 384.93,619.03 385.62,618.44 386.31,617.84 386.99,617.25 387.68,616.65 388.36,616.05 389.05,615.45 389.73,614.85 390.41,614.25 391.09,613.65 391.78,613.05 392.46,612.45 393.14,611.84 393.82,611.24 394.50,610.63 395.18,610.03 395.86,609.42 396.54,608.81 397.22,608.20 397.89,607.59 398.57,606.98 399.25,606.37 399.93,605.76 400.60,605.15 401.28,604.54 401.96,603.93 402.63,603.31 403.31,602.70 403.98,602.08 404.66,601.47 405.33,600.85 406.00,600.24 406.68,599.62 407.35,599.00 408.02,598.39 408.70,597.77 409.37,597.15 410.04,596.53 410.71,595.91 411.39,595.29 412.06,594.67 412.73,594.05 413.40,593.43 414.07,592.81 414.74,592.19 415.41,591.57 416.08,590.95 416.75,590.33 417.42,589.70 418.09,589.08 418.76,588.46 419.43,587.84 420.10,587.22 420.77,586.59 421.44,585.97 422.11,585.35 422.78,584.72 423.45,584.10 424.11,583.48 424.78,582.85 425.45,582.23 426.12,581.61 426.79,580.99 427.46,580.36 428.12,579.74 428.79,579.12 429.46,578.49 430.13,577.87 430.80,577.25 431.46,576.63 432.13,576.00 432.80,575.38 433.47,574.76 434.14,574.14 434.80,573.52 435.47,572.89 436.14,572.27 436.81,571.65 437.48,571.03 438.15,570.41 438.81,569.79 439.48,569.17 440.15,568.55 440.82,567.93 441.49,567.32 442.16,566.70 442.83,566.08 443.50,565.46 444.16,564.85 444.83,564.23 445.50,563.61 446.17,563.00 446.84,562.38 447.51,561.77 448.18,561.16 448.85,560.54 449.52,559.93 450.19,559.32 450.86,558.71 451.54,558.10 452.21,557.48 452.88,556.87 453.55,556.26 454.22,555.65 454.89,555.04 455.56,554.43 456.23,553.82 456.90,553.21 457.57,552.60 458.24,551.99 458.91,551.38 459.57,550.77 460.24,550.16 460.91,549.55 461.58,548.94 462.24,548.33 462.91,547.72 463.58,547.10 464.24,546.49 464.91,545.88 465.57,545.26 466.23,544.65 466.89,544.03 467.56,543.42 468.22,542.80 468.88,542.18 469.54,541.57 470.20,540.95 470.85,540.33 471.51,539.71 472.16,539.08 472.82,538.46 473.47,537.84 474.13,537.21 474.78,536.59 475.43,535.96 476.08,535.33 476.72,534.70 477.37,534.07 478.01,533.44 478.66,532.80 479.30,532.17 479.94,531.53 480.58,530.89 481.22,530.25 481.86,529.61 482.49,528.96 483.13,528.32 483.76,527.67 484.39,527.02 485.02,526.37 485.65,525.72 486.27,525.06 486.89,524.41 487.52,523.75 488.14,523.09 488.76,522.42 489.37,521.76 489.99,521.09 490.60,520.42 491.21,519.75 491.82,519.07 492.43,518.39 493.03,517.71 493.63,517.03 494.23,516.35 494.83,515.66 495.43,514.97 496.02,514.28 496.61,513.58 497.20,512.89 497.79,512.18 498.37,511.48 498.96,510.77 499.54,510.07 500.11,509.35 500.69,508.64 501.26,507.92 501.83,507.20 502.40,506.47 502.96,505.74 503.52,505.01 504.08,504.28 504.64,503.54 505.19,502.80 505.74,502.05 506.29,501.31 506.84,500.55 507.38,499.80 507.92,499.04 508.46,498.28 508.99,497.51 509.52,496.74 510.05,495.97 510.57,495.19 511.09,494.41 511.61,493.62 512.13,492.84 512.64,492.04 513.15,491.24 513.65,490.44 514.15,489.64 514.65,488.83 515.15,488.01 515.64,487.20 516.13,486.37 516.61,485.55 517.09,484.72 517.57,483.88 518.04,483.04 518.51,482.20 518.98,481.35 519.44,480.49 519.90,479.63 520.36,478.77 520.81,477.91 521.26,477.04 521.70,476.16 522.14,475.28 522.58,474.40 523.01,473.51 523.44,472.63 523.87,471.73 524.29,470.84 524.70,469.94 525.12,469.03 525.52,468.13 525.93,467.22 526.33,466.30 526.72,465.39 527.12,464.47 527.50,463.55 527.88,462.63 528.26,461.70 528.64,460.77 529.01,459.84 529.37,458.91 529.73,457.97 530.09,457.03 530.44,456.09 530.79,455.15 531.13,454.21 531.47,453.26 531.80,452.31 532.13,451.36 532.45,450.41 532.77,449.46 533.08,448.51 533.39,447.55 533.70,446.60 534.00,445.64 534.29,444.69 534.58,443.73 534.86,442.77 535.14,441.81 535.42,440.85 535.68,439.89 535.95,438.92 536.21,437.96 536.46,437.00 536.71,436.04 536.95,435.07 537.19,434.11 537.43,433.14 537.66,432.18 537.88,431.22 538.11,430.25 538.32,429.28 538.54,428.32 538.74,427.35 538.95,426.38 539.15,425.42 539.35,424.45 539.54,423.48 539.73,422.51 539.92,421.54 540.10,420.57 540.28,419.60 540.46,418.63 540.63,417.66 540.81,416.69 540.97,415.72 541.14,414.75 541.30,413.77 541.46,412.80 541.62,411.83 541.77,410.85 541.93,409.88 542.08,408.91 542.22,407.93 542.37,406.96 542.51,405.98 542.66,405.01 542.80,404.03 542.94,403.05 543.07,402.08 543.21,401.10 543.34,400.12 543.47,399.15 543.61,398.17 543.74,397.19 543.87,396.21 543.99,395.23 544.12,394.25 544.25,393.27 544.38,392.29 544.50,391.31 544.63,390.33 544.75,389.35 544.87,388.37 545.00,387.39 545.12,386.41 545.25,385.43 545.37,384.45 545.50,383.46 545.62,382.48 545.75,381.50 545.87,380.52 546.00,379.53 546.12,378.55 546.25,377.56 546.38,376.58 546.51,375.60 546.64,374.61 546.77,373.63 546.90,372.64 547.04,371.66 547.17,370.67 547.30,369.68 547.44,368.70 547.58,367.71 547.71,366.73 547.85,365.74 547.99,364.75 548.13,363.76 548.27,362.78 548.41,361.79 548.55,360.80 548.69,359.81 548.84,358.82 548.98,357.84 549.12,356.85 549.27,355.86 549.41,354.87 549.55,353.88 549.70,352.89 549.84,351.90 549.99,350.91 550.13,349.92 550.28,348.93 550.42,347.94 550.57,346.95 550.72,345.96 550.86,344.97 551.01,343.98 551.15,342.99 551.30,342.00 551.44,341.00 551.59,340.01 551.73,339.02 551.88,338.03 552.02,337.04 552.16,336.04 552.31,335.05 552.45,334.06 552.59,333.07 552.74,332.07 552.88,331.08 553.02,330.09 553.16,329.10 553.30,328.10 553.44,327.11 553.58,326.12 553.71,325.12 553.85,324.13 553.99,323.14 554.12,322.14 554.26,321.15 554.39,320.15 554.53,319.16 554.66,318.17 554.79,317.17 554.92,316.18 555.05,315.18 555.18,314.19 555.30,313.20 555.43,312.20 555.55,311.21 555.68,310.21 555.80,309.22 555.92,308.22 556.04,307.23 556.16,306.23 556.28,305.24 556.39,304.24 556.51,303.25 556.63,302.25 556.74,301.26 556.85,300.26 556.97,299.27 557.08,298.27 557.19,297.28 557.30,296.28 557.41,295.29 557.52,294.29 557.62,293.29 557.73,292.30 557.84,291.30 557.94,290.31 558.05,289.31 558.15,288.32 558.25,287.32 558.35,286.33 558.45,285.33 558.55,284.33 558.65,283.34 558.75,282.34 558.85,281.35 558.95,280.35 559.04,279.35 559.14,278.36 559.24,277.36 559.33,276.37 559.43,275.37 559.52,274.37 559.61,273.38 559.70,272.38 559.80,271.38 559.89,270.39 559.98,269.39 560.07,268.40 560.16,267.40 560.25,266.40 560.34,265.41 560.42,264.41 560.51,263.41 560.60,262.42 560.69,261.42 560.77,260.43 560.86,259.43 560.94,258.43 561.03,257.44 561.11,256.44 561.20,255.44 561.28,254.45 561.36,253.45 561.45,252.46 561.53,251.46 561.61,250.46 561.70,249.47 561.78,248.47 561.86,247.47 561.94,246.48 562.02,245.48 562.10,244.48 562.18,243.49 562.26,242.49 562.34,241.50 562.42,240.50 562.50,239.50 562.58,238.51 562.66,237.51 562.74,236.51 562.82,235.52 562.90,234.52 562.98,233.53 563.06,232.53 563.14,231.53 563.22,230.54 563.30,229.54 563.38,228.55 563.45,227.55 563.53,226.55 563.61,225.56 563.69,224.56 563.77,223.57 563.85,222.57 563.93,221.57 564.01,220.58 564.08,219.58 564.16,218.59 564.24,217.59 564.32,216.60 564.40,215.60 564.48,214.61 564.56,213.61 564.64,212.61 564.72,211.62 564.80,210.62 564.88,209.63 564.96,208.63 565.04,207.64 565.12,206.64 565.21,205.65 565.29,204.65 565.37,203.66 565.45,202.66 565.53,201.67 565.62,200.67 565.70,199.68 565.78,198.68 565.87,197.69 565.95,196.69 566.04,195.70 566.12,194.71 566.21,193.71 566.29,192.72 566.38,191.72 566.46,190.73 566.55,189.73 566.64,188.74 566.73,187.75 566.81,186.75 566.90,185.76 566.99,184.77 567.08,183.77 567.17,182.78 567.26,181.79 567.36,180.79 567.45,179.80 567.54,178.81 567.63,177.81 567.73,176.82 567.82,175.83 567.92,174.83 568.01,173.84 568.11,172.85 568.21,171.86 568.30,170.86 568.40,169.87 568.50,168.88 568.60,167.89 568.70,166.89 568.81,165.90 568.91,164.91 569.01,163.92 569.12,162.93 569.22,161.93 569.33,160.94 569.44,159.95 569.55,158.96 569.66,157.97 569.77,156.98 569.88,155.99 570.00,155.00 570.11,154.01 570.23,153.02 570.35,152.03 570.47,151.04 570.59,150.05 570.71,149.06 570.84,148.07 570.96,147.08 571.09,146.09 571.22,145.10 571.35,144.11 571.48,143.13 571.62,142.14 571.75,141.15 571.89,140.16 572.03,139.17 572.18,138.19 572.32,137.20 572.47,136.21 572.62,135.23 572.77,134.24 572.92,133.25 573.08,132.27 573.23,131.28 573.39,130.30 573.56,129.31 573.73,128.33 573.92,127.34 574.13,126.36 574.37,125.39 574.66,124.42 574.99,123.45 575.38,122.49 575.84,121.53 576.36,120.61 576.93,119.80 577.54,119.21 578.17,118.93 578.80,119.03 579.42,119.50 580.02,120.21 580.56,121.10 581.05,122.04 581.46,123.00 581.81,123.96 582.10,124.93 582.35,125.90 582.56,126.88 582.75,127.86 582.91,128.84 583.06,129.82 583.20,130.81 583.35,131.79 583.49,132.77 583.63,133.76 583.77,134.75 583.91,135.73 584.05,136.72 584.18,137.71 584.32,138.69 584.45,139.68 584.58,140.67 584.71,141.66 584.84,142.65 584.97,143.64 585.10,144.63 585.23,145.62 585.35,146.61 585.48,147.61 585.60,148.60 585.72,149.59 585.84,150.59 585.96,151.58 586.08,152.57 586.20,153.57 586.32,154.56 586.43,155.56 586.55,156.55 586.66,157.55 586.77,158.55 586.89,159.54 587.00,160.54 587.11,161.54 587.22,162.54 587.33,163.54 587.43,164.53 587.54,165.53 587.64,166.53 587.75,167.53 587.85,168.53 587.96,169.53 588.06,170.53 588.16,171.53 588.26,172.53 588.36,173.53 588.46,174.53 588.56,175.54 588.66,176.54 588.75,177.54 588.85,178.54 588.94,179.54 589.04,180.55 589.13,181.55 589.23,182.55 589.32,183.55 589.41,184.56 589.50,185.56 589.59,186.56 589.68,187.57 589.77,188.57 589.86,189.58 589.95,190.58 590.04,191.58 590.13,192.59 590.21,193.59 590.30,194.60 590.39,195.60 590.47,196.60 590.56,197.61 590.64,198.61 590.72,199.62 590.81,200.62 590.89,201.63 590.97,202.63 591.05,203.63 591.14,204.64 591.22,205.64 591.30,206.65 591.38,207.65 591.46,208.66 591.54,209.66 591.62,210.66 591.70,211.67 591.78,212.67 591.86,213.68 591.93,214.68 592.01,215.68 592.09,216.69 592.17,217.69 592.25,218.69 592.32,219.70 592.40,220.70 592.48,221.70 592.55,222.71 592.63,223.71 592.71,224.71 592.78,225.71 592.86,226.72 592.93,227.72 593.01,228.72 593.09,229.72 593.16,230.72 593.24,231.72 593.31,232.72 593.39,233.72 593.46,234.72 593.54,235.72 593.61,236.72 593.69,237.72 593.77,238.72 593.84,239.72 593.92,240.72 593.99,241.72 594.07,242.72 594.14,243.71 594.22,244.71 594.30,245.71 594.37,246.71 594.45,247.70 594.52,248.70 594.60,249.69 594.68,250.69 594.75,251.68 594.83,252.68 594.91,253.67 594.99,254.67 595.06,255.66 595.14,256.65 595.22,257.64 595.30,258.64 595.38,259.63 595.46,260.62 595.53,261.61 595.61,262.60 595.69,263.59 595.77,264.58 595.85,265.57 595.93,266.56 596.02,267.55 596.10,268.54 596.18,269.52 596.26,270.51 596.34,271.50 596.42,272.49 596.51,273.47 596.59,274.46 596.67,275.45 596.76,276.43 596.84,277.42 596.93,278.40 597.01,279.39 597.10,280.38 597.18,281.36 597.27,282.34 597.36,283.33 597.44,284.31 597.53,285.30 597.62,286.28 597.71,287.26 597.79,288.25 597.88,289.23 597.97,290.21 598.06,291.20 598.15,292.18 598.24,293.16 598.34,294.14 598.43,295.13 598.52,296.11 598.61,297.09 598.71,298.07 598.80,299.05 598.89,300.03 598.99,301.02 599.08,302.00 599.18,302.98 599.28,303.96 599.37,304.94 599.47,305.92 599.57,306.90 599.67,307.88 599.77,308.86 599.87,309.84 599.97,310.82 600.07,311.80 600.17,312.78 600.27,313.76 600.38,314.74 600.48,315.72 600.58,316.70 600.69,317.68 600.79,318.66 600.90,319.64 601.01,320.63 601.11,321.61 601.22,322.59 601.33,323.57 601.44,324.55 601.55,325.53 601.66,326.51 601.77,327.49 601.88,328.47 602.00,329.45 602.11,330.43 602.22,331.41 602.34,332.39 602.45,333.37 602.57,334.35 602.69,335.33 602.81,336.31 602.92,337.29 603.04,338.27 603.16,339.25 603.29,340.23 603.41,341.22 603.53,342.20 603.65,343.18 603.78,344.16 603.90,345.14 604.03,346.13 604.15,347.11 604.28,348.09 604.41,349.07 604.54,350.05 604.67,351.04 604.80,352.02 604.93,353.00 605.06,353.99 605.20,354.97 605.33,355.96 605.47,356.94 605.60,357.92 605.74,358.91 605.88,359.89 606.02,360.88 606.16,361.86 606.30,362.85 606.44,363.83 606.58,364.82 606.73,365.81 606.87,366.79 607.02,367.78 607.16,368.77 607.31,369.76 607.46,370.74 607.61,371.73 607.76,372.72 607.91,373.71 608.06,374.70 608.22,375.69 608.37,376.68 608.53,377.67 608.68,378.66 608.84,379.65 609.00,380.64 609.16,381.63 609.32,382.62 609.48,383.61 609.64,384.60 609.81,385.60 609.97,386.59 610.14,387.58 610.31,388.57 610.47,389.56 610.64,390.56 610.81,391.55 610.99,392.54 611.16,393.54 611.33,394.53 611.51,395.52 611.69,396.51 611.86,397.51 612.04,398.50 612.22,399.49 612.41,400.48 612.59,401.48 612.77,402.47 612.96,403.46 613.14,404.45 613.33,405.45 613.52,406.44 613.71,407.43 613.90,408.42 614.10,409.41 614.29,410.40 614.49,411.40 614.68,412.39 614.88,413.38 615.08,414.37 615.28,415.36 615.49,416.35 615.69,417.34 615.90,418.33 616.10,419.31 616.31,420.30 616.52,421.29 616.73,422.28 616.94,423.27 617.16,424.25 617.37,425.24 617.59,426.22 617.81,427.21 618.03,428.20 618.25,429.18 618.47,430.16 618.70,431.15 618.92,432.13 619.15,433.11 619.38,434.09 619.61,435.07 619.84,436.06 620.07,437.04 620.31,438.01 620.55,438.99 620.78,439.97 621.02,440.95 621.27,441.93 621.51,442.90 621.75,443.88 622.00,444.85 622.25,445.82 622.50,446.80 622.75,447.77 623.00,448.74 623.26,449.71 623.51,450.68 623.77,451.65 624.03,452.62 624.29,453.58 624.56,454.55 624.82,455.52 625.09,456.48 625.36,457.44 625.63,458.41 625.90,459.37 626.17,460.33 626.45,461.29 626.73,462.24 627.01,463.20 627.29,464.16 627.57,465.11 627.85,466.07 628.14,467.02 628.43,467.97 628.72,468.92 629.01,469.87 629.31,470.82 629.60,471.77 629.90,472.72 630.20,473.66 630.50,474.60 630.80,475.55 631.11,476.49 631.42,477.43 631.73,478.37 632.04,479.30 632.35,480.24 632.67,481.17 632.98,482.11 633.30,483.04 633.62,483.97 633.95,484.90 634.27,485.83 634.60,486.75 634.93,487.68 635.26,488.60 635.59,489.52 635.93,490.45 636.27,491.36 636.61,492.28 636.95,493.20 637.29,494.11 637.64,495.03 637.98,495.94 638.34,496.85 638.69,497.76 639.04,498.66 639.40,499.57 639.76,500.47 640.12,501.37 640.48,502.27 640.85,503.17 641.21,504.07 641.58,504.96 641.96,505.85 642.33,506.75 642.71,507.64 643.08,508.52 643.47,509.41 643.85,510.29 644.23,511.18 644.62,512.06 645.01,512.93 645.40,513.81 645.80,514.69 646.20,515.56 646.59,516.43 647.00,517.30 647.40,518.17 647.81,519.03 648.21,519.89 648.63,520.76 649.04,521.61 649.45,522.47 649.87,523.33 650.29,524.18 650.72,525.03 651.14,525.88 651.57,526.73 652.00,527.57 652.43,528.41 652.87,529.25 653.31,530.09 653.75,530.93 654.19,531.76 654.63,532.59 655.08,533.42 655.53,534.25 655.98,535.07 656.44,535.90 656.90,536.72 657.36,537.53 657.82,538.35 658.28,539.16 658.75,539.97 659.22,540.78 659.69,541.59 660.17,542.39 660.65,543.19 661.13,543.99 661.61,544.79 662.10,545.58 662.59,546.37 663.08,547.16 663.57,547.95 664.07,548.73 664.57,549.51 665.07,550.29 665.58,551.07 666.08,551.84 666.59,552.61 667.11,553.38 667.62,554.15 668.14,554.91 668.66,555.67 669.19,556.43 669.71,557.18 670.24,557.94 670.77,558.69 671.31,559.43 671.85,560.18 672.39,560.92 672.93,561.66 673.48,562.39 674.03,563.13 674.58,563.86 675.13,564.58 675.69,565.31 676.25,566.03 676.82,566.75 677.38,567.46 677.95,568.18 678.52,568.89 679.10,569.59 679.68,570.30 680.26,571.00 680.84,571.70 681.43,572.39 682.02,573.08 682.61,573.77 683.21,574.46 683.81,575.14 684.41,575.82 685.01,576.50 685.62,577.17 686.23,577.84 686.85,578.51 687.46,579.17 688.08,579.83 688.71,580.49 689.33,581.15 689.96,581.80 690.59,582.45 691.23,583.09 691.87,583.73 692.51,584.37 693.15,585.00 693.80,585.64 694.45,586.26 695.11,586.89 695.76,587.51 696.42,588.13 697.09,588.74 697.75,589.35 698.42,589.96 699.10,590.57 699.77,591.17 700.45,591.77 701.13,592.36 701.81,592.96 702.50,593.55 703.19,594.13 703.88,594.72 704.57,595.30 705.27,595.88 705.97,596.45 706.67,597.02 707.38,597.59 708.08,598.16 708.79,598.72 709.51,599.28 710.22,599.84 710.94,600.39 711.65,600.95 712.38,601.49 713.10,602.04 713.82,602.59 714.55,603.13 715.28,603.67 716.01,604.20 716.75,604.74 717.48,605.27 718.22,605.80 718.96,606.32 719.70,606.85 720.44,607.37 721.19,607.89 721.93,608.40 722.68,608.92 723.43,609.43 724.18,609.94 724.94,610.45 725.69,610.95 726.45,611.46 727.21,611.96 727.96,612.46 728.73,612.95 729.49,613.45 730.25,613.94 731.02,614.43 731.78,614.92 732.55,615.40 733.32,615.89 734.09,616.37 734.86,616.85 735.63,617.33 736.40,617.81 737.18,618.28 737.95,618.75 738.73,619.23 739.50,619.69 740.28,620.16 741.06,620.63 741.84,621.09 742.62,621.56 743.40,622.02 744.18,622.48 744.96,622.93 745.75,623.39 746.53,623.84 747.32,624.30 748.10,624.75 748.88,625.20 749.67,625.65 750.46,626.10 751.24,626.54 752.03,626.99 752.82,627.43 753.60,627.87 754.39,628.31 755.18,628.75 755.96,629.19 756.75,629.63 757.54,630.06 758.33,630.50 759.12,630.93 759.90,631.36 760.69,631.80 761.48,632.23 762.27,632.66 763.05,633.08 763.84,633.51 764.63,633.94 765.41,634.36 766.20,634.79 766.99,635.21 767.77,635.64 768.56,636.06 769.34,636.48 770.12,636.90 770.91,637.32 771.69,637.74 772.47,638.16 773.25,638.58 774.04,638.99 774.82,639.41 775.60,639.83 776.37,640.24 777.15,640.66 777.93,641.07 778.71,641.48 779.48,641.90 780.26,642.31 781.03,642.72 781.80,643.13 782.58,643.54 783.35,643.95 784.12,644.36 784.89,644.76 785.67,645.17 786.44,645.57 787.21,645.98 787.98,646.38 788.75,646.78 789.52,647.18 790.29,647.58 791.05,647.98 791.82,648.38 792.59,648.77 793.36,649.17 794.13,649.56 794.90,649.95 795.67,650.34 796.43,650.73 797.20,651.11 797.97,651.50 798.74,651.88 799.51,652.26 800.28,652.64 801.04,653.02 801.81,653.40 802.58,653.77 803.35,654.15 804.12,654.52 804.89,654.89 805.66,655.25 806.43,655.62 807.20,655.98 807.97,656.34 808.75,656.70 809.52,657.06 810.29,657.41 811.06,657.76 811.84,658.11 812.61,658.46 813.39,658.81 814.16,659.15 814.94,659.49 815.72,659.83 816.50,660.17 817.27,660.50 818.05,660.83 818.83,661.16 819.62,661.48 820.40,661.81 821.18,662.13 821.96,662.44 822.75,662.76 823.54,663.07 824.32,663.38 825.11,663.69 825.90,663.99 826.69,664.29 827.48,664.59 828.27,664.88 829.07,665.17 829.86,665.46 830.66,665.75 831.46,666.03 832.26,666.31 833.06,666.58 833.86,666.85 834.66,667.12 835.47,667.39 836.27,667.65 837.08,667.91 837.88,668.17 838.69,668.43 839.50,668.68 840.31,668.93 841.13,669.17 841.94,669.41 842.75,669.65 843.57,669.89 844.39,670.12 845.20,670.36 846.02,670.58 846.84,670.81 847.66,671.03 848.48,671.25 849.31,671.47 850.13,671.68 850.96,671.90 851.78,672.11 852.61,672.31 853.43,672.52 854.26,672.72 855.09,672.92 855.92,673.11 856.75,673.30 857.59,673.50 858.42,673.68 859.25,673.87 860.09,674.05 860.92,674.23 861.76,674.41 862.59,674.59 863.43,674.76 864.27,674.93 865.11,675.10 865.95,675.27 866.79,675.43 867.63,675.60 868.47,675.75 869.31,675.91 870.16,676.07 871.00,676.22 871.84,676.37 872.69,676.52 873.53,676.66 874.38,676.81 875.23,676.95 876.07,677.09 876.92,677.23 877.77,677.36 878.62,677.50 879.47,677.63 880.32,677.76 881.17,677.88 882.02,678.01 882.87,678.13 883.72,678.25 884.57,678.37 885.42,678.49 886.27,678.60 887.13,678.72 887.98,678.83 888.83,678.94 889.69,679.05 890.54,679.15 891.40,679.26 892.25,679.36 893.11,679.46 893.96,679.56 894.82,679.66 895.67,679.75 896.53,679.85 897.38,679.94 898.24,680.03 899.10,680.12 899.95,680.21 900.81,680.29 901.67,680.38 902.52,680.46 903.38,680.54 904.24,680.62 905.10,680.70 905.95,680.77 906.81,680.85 907.67,680.92 908.52,680.99 909.38,681.07 910.24,681.14 911.10,681.20 911.95,681.27 912.81,681.34 913.67,681.40 914.53,681.46 915.38,681.52 916.24,681.58 917.10,681.64 917.95,681.70 918.81,681.76 919.67,681.81 920.52,681.87 921.38,681.92 922.23,681.97 923.09,682.02 923.94,682.07 924.80,682.12 925.65,682.17 926.51,682.22 927.36,682.26 928.22,682.31 929.07,682.35 929.92,682.39 930.78,682.44 931.63,682.48 932.48,682.52 933.33,682.56 934.18,682.59 935.04,682.63 935.89,682.67 936.74,682.70 937.59,682.74 938.43,682.77 939.28,682.81 940.13,682.84 940.98,682.87 941.83,682.90 942.67,682.93 943.52,682.96 944.36,682.99 945.21,683.02 946.05,683.05 946.90,683.08 947.74,683.11 948.58,683.13 949.42,683.16 950.27,683.18 951.11,683.21 951.95,683.23 952.78,683.26 953.62,683.28 954.46,683.31 955.30,683.33 956.13,683.35 956.97,683.37 957.80,683.40 958.64,683.42 959.47,683.44 960.30,683.46 961.13,683.48 961.96,683.50 962.79,683.52 963.62,683.54 964.45,683.56 965.28,683.58 966.10,683.60 1094.92,683.60" fill="none" stroke="#ff00ff" stroke-width="8.40" stroke-linejoin="miter" stroke-miterlimit="3.25" stroke-linecap="square"/>
<text transform="translate(153.57,136.70) scale(1.0000,1.0050)" font-size="49.00" font-weight="normal" font-style="normal" fill="#000">(c)</text>
<text transform="translate(173.18,258.00) scale(1.0000,1.0550)" font-size="49.00" font-weight="normal" font-style="normal" fill="#000">Ln(2)</text>
<text transform="translate(173.78,530.80) scale(1.0000,1.0550)" font-size="49.00" font-weight="normal" font-style="normal" fill="#000">NWS</text>
<text transform="translate(667.20,530.80) scale(1.0000,1.0550)" font-size="49.00" font-weight="normal" font-style="normal" fill="#000">TWS</text>
<text transform="translate(910.13,530.80) scale(1.0000,1.0550)" font-size="49.00" font-weight="normal" font-style="normal" fill="#000">NWS</text>
<text transform="translate(405.34,572.80) rotate(-90) scale(1,1.055)" font-size="49" fill="#000">OWS</text>
<rect x="132.88" y="88.15" width="981.69" height="607.75" fill="none" stroke="#000" stroke-width="3.8"/>
<path d="M132.88 683.80h7.70M1114.58 683.80h-7.70M132.88 654.40h4.70M1114.58 654.40h-4.70M132.88 625.00h4.70M1114.58 625.00h-4.70M132.88 595.60h4.70M1114.58 595.60h-4.70M132.88 566.20h7.70M1114.58 566.20h-7.70M132.88 536.80h4.70M1114.58 536.80h-4.70M132.88 507.40h4.70M1114.58 507.40h-4.70M132.88 478.00h4.70M1114.58 478.00h-4.70M132.88 448.60h7.70M1114.58 448.60h-7.70M132.88 419.20h4.70M1114.58 419.20h-4.70M132.88 389.80h4.70M1114.58 389.80h-4.70M132.88 360.40h4.70M1114.58 360.40h-4.70M132.88 331.00h7.70M1114.58 331.00h-7.70M132.88 301.60h4.70M1114.58 301.60h-4.70M132.88 272.20h4.70M1114.58 272.20h-4.70M132.88 242.80h4.70M1114.58 242.80h-4.70M132.88 213.40h7.70M1114.58 213.40h-7.70M132.88 184.00h4.70M1114.58 184.00h-4.70M132.88 154.60h4.70M1114.58 154.60h-4.70M132.88 125.20h4.70M1114.58 125.20h-4.70M132.88 95.80h7.70M1114.58 95.80h-7.70M171.61 88.15v4.70M171.61 695.90v-4.70M222.90 88.15v4.70M222.90 695.90v-4.70M274.19 88.15v4.70M274.19 695.90v-4.70M325.47 88.15v7.70M325.47 695.90v-7.70M376.76 88.15v4.70M376.76 695.90v-4.70M428.05 88.15v4.70M428.05 695.90v-4.70M479.34 88.15v4.70M479.34 695.90v-4.70M530.63 88.15v4.70M530.63 695.90v-4.70M581.92 88.15v7.70M581.92 695.90v-7.70M633.20 88.15v4.70M633.20 695.90v-4.70M684.49 88.15v4.70M684.49 695.90v-4.70M735.78 88.15v4.70M735.78 695.90v-4.70M787.07 88.15v4.70M787.07 695.90v-4.70M838.36 88.15v7.70M838.36 695.90v-7.70M889.64 88.15v4.70M889.64 695.90v-4.70M940.93 88.15v4.70M940.93 695.90v-4.70M992.22 88.15v4.70M992.22 695.90v-4.70M1043.51 88.15v4.70M1043.51 695.90v-4.70M1094.80 88.15v7.70M1094.80 695.90v-7.70" stroke="#666666" stroke-width="3.70" fill="none"/>
<text transform="translate(66.33,699.70) scale(1.0000,1.0800)" font-size="43.00" font-weight="bold" font-style="normal" fill="#666666">0.0</text>
<text transform="translate(66.33,582.10) scale(1.0000,1.0800)" font-size="43.00" font-weight="bold" font-style="normal" fill="#666666">0.2</text>
<text transform="translate(66.33,464.50) scale(1.0000,1.0800)" font-size="43.00" font-weight="bold" font-style="normal" fill="#666666">0.4</text>
<text transform="translate(66.33,346.90) scale(1.0000,1.0800)" font-size="43.00" font-weight="bold" font-style="normal" fill="#666666">0.6</text>
<text transform="translate(66.33,229.30) scale(1.0000,1.0800)" font-size="43.00" font-weight="bold" font-style="normal" fill="#666666">0.8</text>
<path transform="translate(66.33,111.70) scale(43.0000,46.4400)" d="M0.39 0L0.39 -0.688L0.277 -0.688C0.25 -0.62 0.17 -0.55 0.069 -0.509L0.069 -0.392C0.14 -0.415 0.2 -0.45 0.25 -0.493L0.25 0Z" fill="#666666"/><text transform="translate(90.24,111.70) scale(1.0000,1.0800)" font-size="43.00" font-weight="bold" font-style="normal" fill="#666666">.0</text>
<text transform="translate(295.59,743.40) scale(1.0000,1.0800)" font-size="43.00" font-weight="bold" font-style="normal" fill="#666666">0.5</text>
<path transform="translate(552.03,743.40) scale(43.0000,46.4400)" d="M0.39 0L0.39 -0.688L0.277 -0.688C0.25 -0.62 0.17 -0.55 0.069 -0.509L0.069 -0.392C0.14 -0.415 0.2 -0.45 0.25 -0.493L0.25 0Z" fill="#666666"/><text transform="translate(575.94,743.40) scale(1.0000,1.0800)" font-size="43.00" font-weight="bold" font-style="normal" fill="#666666">.0</text>
<path transform="translate(808.47,743.40) scale(43.0000,46.4400)" d="M0.39 0L0.39 -0.688L0.277 -0.688C0.25 -0.62 0.17 -0.55 0.069 -0.509L0.069 -0.392C0.14 -0.415 0.2 -0.45 0.25 -0.493L0.25 0Z" fill="#666666"/><text transform="translate(832.38,743.40) scale(1.0000,1.0800)" font-size="43.00" font-weight="bold" font-style="normal" fill="#666666">.5</text>
<text transform="translate(1064.91,743.40) scale(1.0000,1.0800)" font-size="43.00" font-weight="bold" font-style="normal" fill="#666666">2.0</text>
<text transform="translate(42.37,532.20) rotate(-90) scale(1,1.04)" font-size="47" font-weight="bold" fill="#666666">EN, Steering</text>
<text transform="translate(533.06,809.20) scale(1.0000,0.9700)" font-size="47.00" font-weight="bold" font-style="italic" fill="#666666">ω</text>
<text transform="translate(574.32,817.00) scale(0.7000,0.9600)" font-size="33.00" font-weight="bold" font-style="italic" fill="#666666" stroke="#666666" stroke-width="1.00">ϕ</text>
<text transform="translate(674.15,817.00) scale(0.7000,0.9600)" font-size="33.00" font-weight="bold" font-style="italic" fill="#666666" stroke="#666666" stroke-width="1.00">ϕ</text>
<path transform="translate(597.30,816.80) scale(33.0000,33.0000)" d="M0.39 0L0.39 -0.688L0.277 -0.688C0.25 -0.62 0.17 -0.55 0.069 -0.509L0.069 -0.392C0.14 -0.415 0.2 -0.45 0.25 -0.493L0.25 0Z" fill="#666666"/>
<path d="M616.44 809.7L624.24 775.4L629.75 775.4L621.95 809.7Z" fill="#666666"/>
<text transform="translate(633.40,809.20) scale(1.0000,0.9700)" font-size="47.00" font-weight="bold" font-style="italic" fill="#666666">ω</text>
<text transform="translate(691.00,816.80) scale(1.2000,1.0000)" font-size="33.00" font-weight="bold" font-style="normal" fill="#666666">2</text>
<line x1="601.27" y1="153.90" x2="687.54" y2="153.90" stroke="#000" stroke-width="7.8"/>
<line x1="601.27" y1="232.00" x2="687.54" y2="232.00" stroke="#ff0000" stroke-width="7.8"/>
<line x1="879.15" y1="152.90" x2="965.25" y2="152.90" stroke="#0000ff" stroke-width="7.8"/>
<line x1="879.15" y1="228.90" x2="965.25" y2="228.90" stroke="#ff00ff" stroke-width="7.8"/>
<text transform="translate(712.77,163.10) scale(0.9400,1.0800)" font-size="39.00" font-weight="bold" font-style="italic" fill="#000">S</text>
<text transform="translate(736.97,169.60) scale(1.0000,1.0600)" font-size="27.70" font-weight="bold" font-style="italic" fill="#000">M</text>
<path transform="translate(759.83,174.30) scale(19.7000,20.8820)" d="M0.39 0L0.39 -0.688L0.277 -0.688C0.25 -0.62 0.17 -0.55 0.069 -0.509L0.069 -0.392C0.14 -0.415 0.2 -0.45 0.25 -0.493L0.25 0Z" fill="#000"/>
<path d="M774.49 162.10H793.74 M788.74 156.10L794.34 162.10L788.74 168.10" fill="none" stroke="#000" stroke-width="3.1" stroke-linejoin="miter"/>
<text transform="translate(797.48,169.60) scale(1.0000,1.0600)" font-size="27.70" font-weight="bold" font-style="italic" fill="#000">M</text>
<text transform="translate(820.16,174.30) scale(1.0000,1.0600)" font-size="19.70" font-weight="bold" font-style="normal" fill="#000">2</text>
<text transform="translate(712.77,241.30) scale(0.9400,1.0800)" font-size="39.00" font-weight="bold" font-style="italic" fill="#000">S</text>
<text transform="translate(736.97,247.80) scale(1.0000,1.0600)" font-size="27.70" font-weight="bold" font-style="italic" fill="#000">M</text>
<text transform="translate(759.66,252.50) scale(1.0000,1.0600)" font-size="19.70" font-weight="bold" font-style="normal" fill="#000">2</text>
<path d="M774.49 240.30H793.74 M788.74 234.30L794.34 240.30L788.74 246.30" fill="none" stroke="#000" stroke-width="3.1" stroke-linejoin="miter"/>
<text transform="translate(797.48,247.80) scale(1.0000,1.0600)" font-size="27.70" font-weight="bold" font-style="italic" fill="#000">M</text>
<path transform="translate(820.51,252.50) scale(19.7000,20.8820)" d="M0.39 0L0.39 -0.688L0.277 -0.688C0.25 -0.62 0.17 -0.55 0.069 -0.509L0.069 -0.392C0.14 -0.415 0.2 -0.45 0.25 -0.493L0.25 0Z" fill="#000"/>
<text transform="translate(988.66,161.80) scale(1.0000,1.0200)" font-size="39.00" font-weight="bold" font-style="normal" fill="#000">Ds</text>
<text transform="translate(989.57,237.80) scale(1.0000,1.0500)" font-size="39.00" font-weight="bold" font-style="italic" fill="#000">E</text>
<text transform="translate(1016.04,244.60) scale(1.0000,1.0600)" font-size="27.70" font-weight="bold" font-style="italic" fill="#000">M</text>
<path transform="translate(1039.06,249.80) scale(19.7000,20.8820)" d="M0.39 0L0.39 -0.688L0.277 -0.688C0.25 -0.62 0.17 -0.55 0.069 -0.509L0.069 -0.392C0.14 -0.415 0.2 -0.45 0.25 -0.493L0.25 0Z" fill="#000"/>
<text transform="translate(1058.50,244.60) scale(1.0000,1.0600)" font-size="27.70" font-weight="bold" font-style="italic" fill="#000">M</text>
<text transform="translate(1080.84,249.80) scale(1.0000,1.0600)" font-size="19.70" font-weight="bold" font-style="normal" fill="#000">2</text>
</g></svg></body></html>
